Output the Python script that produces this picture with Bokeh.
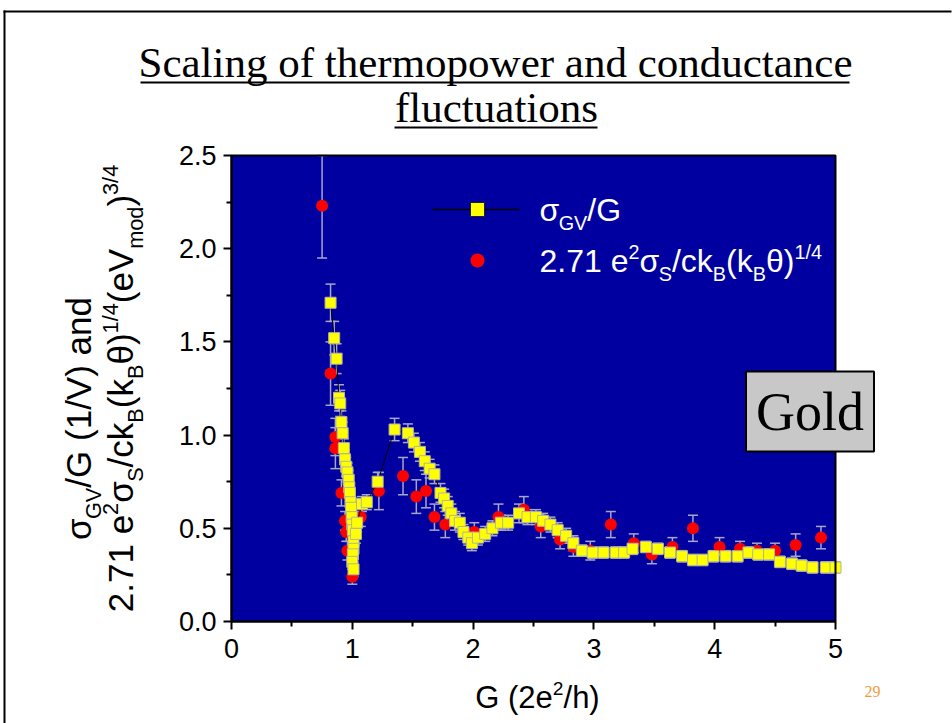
import math
from bokeh.plotting import figure
from bokeh.models import (ColumnDataSource, Whisker, TeeHead, Label, BoxAnnotation,
                          Range1d, FixedTicker, NumeralTickFormatter, LinearAxis)
from bokeh.embed import file_html
from bokeh.resources import INLINE

# ---------------- data ----------------
g_gv = [0.82, 0.85, 0.87, 0.89, 0.90, 0.91, 0.92, 0.93, 0.94, 0.95,
        0.96, 0.97, 0.975, 0.98, 0.985, 0.99, 0.995, 1.00, 1.005, 1.01,
        1.01, 1.005, 1.00, 1.01, 1.03, 1.04, 1.08, 1.12, 1.21, 1.35,
        1.46, 1.51, 1.56, 1.60, 1.64, 1.68, 1.73, 1.76, 1.79, 1.82,
        1.85, 1.89, 1.92, 1.96, 1.99, 2.04, 2.10, 2.16, 2.23, 2.29,
        2.38, 2.45, 2.52, 2.58, 2.64, 2.70, 2.77, 2.83, 2.90, 2.99,
        3.08, 3.18, 3.25, 3.32, 3.43, 3.53, 3.63, 3.73, 3.82, 3.90,
        3.99, 4.09, 4.19, 4.28, 4.36, 4.45, 4.54, 4.64, 4.72, 4.81,
        4.92, 5.00]
sig_gv = [1.71, 1.52, 1.41, 1.20, 1.17, 1.07, 1.01, 0.93, 0.87, 0.83,
          0.80, 0.76, 0.72, 0.69, 0.64, 0.61, 0.56, 0.52, 0.49, 0.43,
          0.39, 0.36, 0.32, 0.28, 0.47, 0.53, 0.63, 0.64, 0.75, 1.03,
          1.01, 0.96, 0.91, 0.86, 0.82, 0.79, 0.69, 0.66, 0.62, 0.58,
          0.54, 0.53, 0.48, 0.45, 0.42, 0.45, 0.47, 0.50, 0.53, 0.53,
          0.58, 0.56, 0.56, 0.54, 0.52, 0.49, 0.46, 0.42, 0.38, 0.37,
          0.37, 0.37, 0.37, 0.39, 0.40, 0.39, 0.37, 0.35, 0.33, 0.33,
          0.35, 0.35, 0.35, 0.37, 0.36, 0.36, 0.32, 0.31, 0.30, 0.29,
          0.29, 0.29]
err_gv = [0.10, 0.09, 0.08, 0.07, 0.07, 0.06, 0.06, 0.05, 0.05, 0.05,
          0.05, 0.05, 0.05, 0.05, 0.05, 0.05, 0.05, 0.05, 0.04, 0.04,
          0.04, 0.04, 0.04, 0.04, 0.05, 0.05, 0.04, 0.04, 0.05, 0.06,
          0.05, 0.05, 0.05, 0.05, 0.05, 0.05, 0.05, 0.05, 0.05, 0.05,
          0.05, 0.05, 0.04, 0.04, 0.04, 0.04, 0.04, 0.04, 0.04, 0.04,
          0.05, 0.04, 0.04, 0.04, 0.04, 0.04, 0.04, 0.04, 0.03, 0.03,
          0.03, 0.03, 0.03, 0.03, 0.03, 0.03, 0.03, 0.03, 0.03, 0.03,
          0.03, 0.03, 0.03, 0.03, 0.03, 0.03, 0.03, 0.03, 0.03, 0.03,
          0.03, 0.03]

g_s = [0.75, 0.82, 0.86, 0.86, 0.91, 0.94, 0.95, 0.96, 1.00, 1.03,
       1.07, 1.22, 1.42, 1.53, 1.61, 1.68, 1.77, 2.01, 2.21, 2.42,
       2.56, 2.72, 2.83, 2.97, 3.14, 3.33, 3.48, 3.65, 3.82, 4.04,
       4.21, 4.35, 4.50, 4.67, 4.88]
sig_s = [2.23, 1.33, 0.99, 0.93, 0.69, 0.54, 0.48, 0.38, 0.24, 0.52,
         0.56, 0.70, 0.78, 0.67, 0.70, 0.56, 0.52, 0.48, 0.56, 0.60,
         0.51, 0.44, 0.40, 0.38, 0.52, 0.42, 0.36, 0.40, 0.50, 0.40,
         0.39, 0.38, 0.38, 0.41, 0.45]
err_s = [0.28, 0.17, 0.10, 0.11, 0.07, 0.05, 0.05, 0.05, 0.04, 0.05,
         0.05, 0.10, 0.10, 0.09, 0.09, 0.07, 0.07, 0.05, 0.07, 0.07,
         0.06, 0.05, 0.05, 0.05, 0.07, 0.05, 0.05, 0.05, 0.07, 0.05,
         0.04, 0.04, 0.04, 0.06, 0.06]

x_ticks = [0, 1, 2, 3, 4, 5]
x_minor = [0.5, 1.5, 2.5, 3.5, 4.5]
y_ticks = [0.0, 0.5, 1.0, 1.5, 2.0, 2.5]
y_minor = [0.25, 0.75, 1.25, 1.75, 2.25]

title_lines = ["Scaling of thermopower and conductance", "fluctuations"]
slide_number = "29"
box_text = "Gold"

# ---------------- layout / style ----------------
W, H = 952, 723
FL, FR, FT, FB = 231, 835, 155, 621          # plot-area pixel box on the slide
XMIN, XMAX, YMIN, YMAX = 0, 5, 0, 2.5
BG = "#0000A0"
EB = "#A6A6C8"
SANS = "Liberation Sans"
SERIF = "Liberation Serif"
BASE_FIX = 0.33     # renderer puts the alphabetic baseline this many em too low


def dx(px):
    return XMIN + (px - FL) / (FR - FL) * (XMAX - XMIN)


def dy(py):
    return YMIN + (FB - py) / (FB - FT) * (YMAX - YMIN)


AW = {' ': 278, '(': 333, ')': 333, '.': 278, '/': 278,
      'G': 778, 'V': 667, 'S': 667, 'B': 667,
      'a': 556, 'c': 500, 'd': 556, 'e': 556, 'h': 556, 'k': 500,
      'm': 833, 'n': 556, 'o': 556, 'σ': 600, 'θ': 556}
for _d in "0123456789":
    AW[_d] = 556
SUB = 0.62


def tw(s):
    return sum(AW.get(ch, 556) for ch in s) / 1000.0


def lab(px, py, text, fs, angle=0.0, baseline="alphabetic", **kw):
    if baseline == "alphabetic":
        if angle == 0:
            py -= BASE_FIX * fs
        else:
            px -= BASE_FIX * fs
    return Label(x=dx(px), y=dy(py), text=text, angle=angle,
                 text_font_size=f"{fs:.1f}px", text_baseline=baseline, **kw)


# The frame covers the whole slide; the data box is placed inside it.
p = figure(width=W, height=H, x_range=Range1d(dx(0), dx(W)), y_range=Range1d(dy(H), dy(0)),
           output_backend="svg", toolbar_location=None,
           x_axis_type=None, y_axis_type=None,
           min_border_left=0, min_border_right=0, min_border_top=0, min_border_bottom=0)
p.background_fill_color = "white"
p.border_fill_color = "white"
p.outline_line_color = None
p.grid.visible = False

# plot area background
p.quad(left=[XMIN], right=[XMAX], bottom=[YMIN], top=[YMAX], fill_color=BG,
       line_color=None, level="image")

xaxis = LinearAxis(fixed_location=YMIN, bounds=(XMIN, XMAX))
yaxis = LinearAxis(fixed_location=XMIN, bounds=(YMIN, YMAX))
p.add_layout(xaxis, "below")
p.add_layout(yaxis, "left")
for ax, tk, mn in ((xaxis, x_ticks, x_minor), (yaxis, y_ticks, y_minor)):
    ax.ticker = FixedTicker(ticks=tk, minor_ticks=mn)
    ax.axis_line_width = 2
    ax.axis_line_color = "black"
    ax.major_tick_line_width = 2
    ax.minor_tick_line_width = 2
    ax.major_tick_in = 0
    ax.major_tick_out = 8
    ax.minor_tick_in = 0
    ax.minor_tick_out = 5
    ax.major_label_text_font = SANS
    ax.major_label_text_font_size = "27px"
    ax.major_label_text_color = "black"
yaxis.formatter = NumeralTickFormatter(format="0.0")
xaxis.major_label_standoff = 9
yaxis.major_label_standoff = 7


def rich(segs, x0, y0, size, angle=0, color="black", font=SANS, center=True):
    total = sum(tw(t) * size * (1 if k == "n" else SUB) for t, k in segs)
    if angle == 0:
        cur = x0 - total / 2 if center else x0
    else:
        cur = y0 + total / 2 if center else y0
    for t, k in segs:
        fs = size if k == "n" else size * SUB
        shift = 0.0
        if k == "sub":
            shift = 0.28 * size
        elif k == "sup":
            shift = -0.42 * size
        if angle == 0:
            px, py = cur, y0 + shift
            cur += tw(t) * fs
            ang = 0
        else:
            px, py = x0 + shift, cur
            cur -= tw(t) * fs
            ang = math.pi / 2
        p.add_layout(lab(px, py, t, fs, angle=ang, text_font=font, text_color=color,
                         text_align="left"))


# ---------------- data glyphs ----------------
src_s = ColumnDataSource(dict(x=g_s, y=sig_s,
                              upper=[min(a + b, YMAX) for a, b in zip(sig_s, err_s)],
                              lower=[a - b for a, b in zip(sig_s, err_s)]))
src_gv = ColumnDataSource(dict(x=g_gv, y=sig_gv,
                               upper=[min(a + b, YMAX) for a, b in zip(sig_gv, err_gv)],
                               lower=[a - b for a, b in zip(sig_gv, err_gv)]))

for src in (src_s, src_gv):
    p.add_layout(Whisker(source=src, base="x", upper="upper", lower="lower",
                         line_color=EB, line_width=1.5, level="underlay",
                         upper_head=TeeHead(size=10, line_color=EB, line_width=1.5),
                         lower_head=TeeHead(size=10, line_color=EB, line_width=1.5)))

p.scatter("x", "y", source=src_s, marker="circle", size=12,
          fill_color="#FF0000", line_color=None)
p.line("x", "y", source=src_gv, line_color="black", line_width=1)
p.scatter("x", "y", source=src_gv, marker="square", size=11,
          fill_color="#FFFF00", line_color="#B4B4A0", line_width=1)

# plot area frame
p.quad(left=[XMIN], right=[XMAX], bottom=[YMIN], top=[YMAX], fill_color=None,
       line_color="black", line_width=2)

# ---------------- legend (manual) ----------------
p.line([dx(432), dx(519)], [dy(209), dy(209)], line_color="black", line_width=1.5)
p.scatter([dx(477)], [dy(209)], marker="square", size=14, fill_color="#FFFF00",
          line_color="#222222", line_width=1)
p.scatter([dx(477)], [dy(260)], marker="circle", size=14, fill_color="#FF0000",
          line_color=None)
rich([("σ", "n"), ("GV", "sub"), ("/G", "n")], 539, 220, 32, color="white", center=False)
rich([("2.71 e", "n"), ("2", "sup"), ("σ", "n"), ("S", "sub"), ("/ck", "n"), ("B", "sub"),
      ("(k", "n"), ("B", "sub"), ("θ)", "n"), ("1/4", "sup")], 539, 271, 32,
     color="white", center=False)

# ---------------- axis labels ----------------
rich([("G (2e", "n"), ("2", "sup"), ("/h)", "n")], 537, 707, 31)
rich([("σ", "n"), ("GV", "sub"), ("/G (1/V) and", "n")], 90, 418, 35, angle=90)
rich([("2.71 e", "n"), ("2", "sup"), ("σ", "n"), ("S", "sub"), ("/ck", "n"), ("B", "sub"),
      ("(k", "n"), ("B", "sub"), ("θ)", "n"), ("1/4", "sup"), ("(eV", "n"), ("mod", "sub"),
      (")", "n"), ("3/4", "sup")], 132, 388, 35, angle=90)

# ---------------- title ----------------
p.add_layout(lab(495, 76, title_lines[0], 43, text_font=SERIF, text_color="black",
                 text_align="center"))
p.add_layout(lab(496, 121, title_lines[1], 43, text_font=SERIF, text_color="black",
                 text_align="center"))


def box(l, r, t, b, **kw):
    return BoxAnnotation(left=dx(l), right=dx(r), top=dy(t), bottom=dy(b), **kw)


p.add_layout(box(140, 849, 81, 83, fill_color="black", fill_alpha=1, line_alpha=0))
p.add_layout(box(394, 597, 126, 128, fill_color="black", fill_alpha=1, line_alpha=0))

# slide border (top and left edges visible)
p.add_layout(box(3, 951, 10, 12, fill_color="black", fill_alpha=1, line_alpha=0))
p.add_layout(box(3, 5, 10, 723, fill_color="black", fill_alpha=1, line_alpha=0))

# Gold box
p.add_layout(lab(809.5, 411, box_text, 54, baseline="middle", text_font=SERIF,
                 text_color="black", text_align="center",
                 background_fill_color="#C8C8C8", background_fill_alpha=1,
                 border_line_color="black", border_line_width=2, padding=10))

# slide number
p.add_layout(lab(872, 696, slide_number, 16, text_font=SERIF, text_align="center",
                 text_color="#F59A3C"))

open("out.html", "w").write(file_html(p, INLINE))
